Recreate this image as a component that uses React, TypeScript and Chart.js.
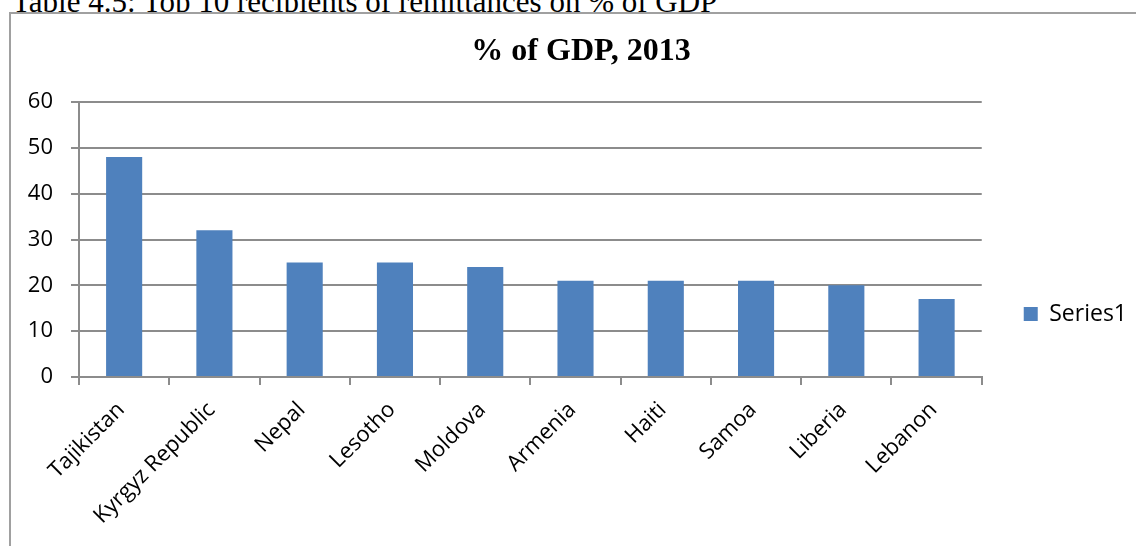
import React, { useEffect, useRef } from "react";
import { Chart, registerables } from "chart.js";

Chart.register(...registerables);

const categories = [
  "Tajikistan",
  "Kyrgyz Republic",
  "Nepal",
  "Lesotho",
  "Moldova",
  "Armenia",
  "Haiti",
  "Samoa",
  "Liberia",
  "Lebanon",
];
const series1 = [48, 32, 25, 25, 24, 21, 21, 21, 20, 17];
const seriesName = "Series1";
const chartTitle = "% of GDP, 2013";
const caption = "Table 4.5: Top 10 recipients of remittances on % of GDP";
const yMin = 0;
const yMax = 60;
const yStep = 10;

const SANS = "'Open Sans', 'DejaVu Sans', sans-serif";
const SERIF = "'Liberation Serif', 'Times New Roman', serif";
const GRID = "#8c8c8c";

export default function App() {
  const canvasRef = useRef<HTMLCanvasElement | null>(null);

  useEffect(() => {
    const canvas = canvasRef.current;
    if (!canvas) return;
    const chart = new Chart(canvas, {
      type: "bar",
      data: {
        labels: categories,
        datasets: [
          {
            label: seriesName,
            data: series1,
            backgroundColor: "#4F81BD",
            borderWidth: 0,
            barPercentage: 0.4,
            categoryPercentage: 1,
          },
        ],
      },
      options: {
        animation: false,
        responsive: false,
        maintainAspectRatio: false,
        layout: { padding: { left: 14, right: 14, top: 0, bottom: 0 } },
        plugins: {
          title: {
            display: true,
            text: chartTitle,
            color: "#000",
            font: { family: SERIF, size: 32, weight: "bold", lineHeight: 1.2 },
            padding: { top: 19, bottom: 30.6 },
          },
          legend: {
            display: true,
            position: "right",
            align: "center",
            labels: {
              boxWidth: 14,
              boxHeight: 14,
              padding: 42,
              color: "#000",
              font: { family: SANS, size: 23 },
            },
          },
          tooltip: { enabled: false },
        },
        scales: {
          x: {
            offset: true,
            grid: {
              offset: true,
              drawOnChartArea: false,
              drawTicks: true,
              tickLength: 8,
              color: GRID,
              lineWidth: 2,
            },
            border: { display: true, color: GRID, width: 2 },
            ticks: {
              minRotation: 45,
              maxRotation: 45,
              autoSkip: false,
              color: "#000",
              padding: 12,
              labelOffset: -3,
              font: { family: SANS, size: 22 },
            },
            afterFit: (scale: any) => {
              scale.height = 237;
            },
          },
          y: {
            min: yMin,
            max: yMax,
            grid: {
              drawOnChartArea: true,
              drawTicks: true,
              tickLength: 8,
              color: GRID,
              lineWidth: 2,
            },
            border: { display: true, color: GRID, width: 2 },
            ticks: {
              stepSize: yStep,
              color: "#000",
              padding: 18,
              font: { family: SANS, size: 22 },
            },
            afterFit: (scale: any) => {
              scale.width = 54;
            },
          },
        },
      },
    });
    return () => chart.destroy();
  }, []);

  return (
    <div>
      <div
        style={{
          position: "absolute",
          left: 12,
          top: -14,
          fontFamily: SERIF,
          fontSize: 31,
          lineHeight: "31px",
          whiteSpace: "nowrap",
          color: "#000",
        }}
      >
        {caption}
      </div>
      <div
        style={{
          position: "absolute",
          left: 9,
          top: 12,
          width: 1140,
          height: 620,
          borderLeft: "2px solid #a0a0a0",
          borderTop: "2px solid #a0a0a0",
          background: "#fff",
        }}
      >
        <canvas
          ref={canvasRef}
          width={1140}
          height={600}
          style={{ position: "absolute", left: 0, top: 0, width: 1140, height: 600 }}
        />
      </div>
    </div>
  );
}
